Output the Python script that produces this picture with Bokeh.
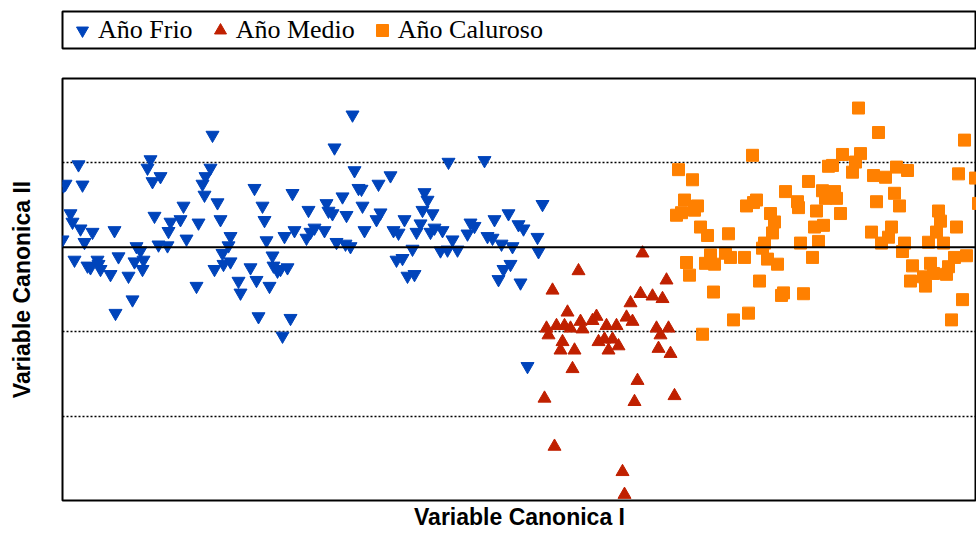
from bokeh.plotting import figure
from bokeh.layouts import column
from bokeh.models import Range1d, FixedTicker, Span, Legend, LegendItem
from bokeh.embed import file_html
from bokeh.resources import INLINE

# ---- data (canonical variable scores) ----
frio_x = [-3.11, -4.45, -3.73, -3.76, -3.71, -3.63, -4.58, -4.60, -4.41, -3.13,
          -3.18, -3.21, -3.19, -3.06, -3.03, -3.40, -3.43, -3.25, -3.69, -3.53,
          -3.55, -3.37, -4.53, -4.51, -4.43, -4.31, -4.39, -4.61, -4.09, -3.87,
          -3.83, -3.65, -3.56, -4.49, -4.36, -4.33, -4.26, -4.25, -4.23, -4.13,
          -4.05, -3.89, -3.80, -3.81, -3.95, -3.91, -4.08, -3.27, -3.09, -3.01,
          -3.00, -2.93, -2.93, -2.95,
          -1.71, -1.89, -1.69, -1.65, -1.62, -1.45, -1.33, -2.69, -2.31, -2.61,
          -2.59, -2.15, -1.97, -1.95, -1.91, -1.81, -1.77, -1.61, -1.43, -1.47,
          -1.59, -1.30, -2.57, -2.39, -2.29, -2.17, -2.13, -2.09, -1.99, -1.87,
          -1.78, -1.73, -2.51, -2.50, -2.46, -2.43, -2.36, -2.73, -2.67, -2.85,
          -2.83, -2.54, -2.65, -2.33, -2.41, -1.27,
          -0.75, -0.39, 0.19, -0.99, -0.96, -1.01, -0.91, -1.19, -1.03, -1.07,
          -1.25, -0.93, -0.89, -0.81, -0.56, -0.53, -0.49, -0.71, -0.83, -0.76,
          -0.66, -1.11, -0.29, -0.15, -0.05, 0.00, -0.36, -0.31, -0.22, -0.11,
          0.14, 0.15, -1.21, -1.16, -1.09, -0.13, -0.20, -0.25, -0.03, 0.04]
frio_y = [1.33, 0.98, 1.04, 0.94, 0.78, 0.84, 0.75, 0.73, 0.74, 0.94,
          0.84, 0.75, 0.62, 0.53, 0.33, 0.49, 0.33, 0.29, 0.37, 0.30,
          0.19, 0.10, 0.40, 0.30, 0.22, 0.18, 0.06, 0.09, 0.20, 0.01,
          -0.04, 0.03, 0.02, -0.15, -0.22, -0.24, -0.15, -0.20, -0.26, -0.32,
          -0.11, -0.17, -0.15, -0.26, -0.34, -0.62, -0.78, -0.46, -0.26, -0.07,
          -0.20, -0.17, 0.13, 0.02,
          1.57, 1.18, 0.91, 0.70, 0.69, 0.75, 0.85, 0.70, 0.64, 0.49,
          0.32, 0.44, 0.52, 0.43, 0.40, 0.60, 0.38, 0.49, 0.41, 0.33,
          0.20, 0.20, 0.08, 0.13, 0.20, 0.11, 0.18, 0.23, 0.20, 0.06,
          0.04, 0.01, -0.10, -0.22, -0.28, -0.26, -0.24, -0.24, -0.39, -0.40,
          -0.54, -0.46, -0.82, -0.84, -1.05, -0.15,
          1.01, 1.03, 0.51, 0.65, 0.56, 0.44, 0.40, 0.33, 0.28, 0.18,
          0.17, 0.18, 0.23, 0.20, 0.16, 0.29, 0.25, 0.09, -0.04, -0.03,
          -0.03, -0.02, 0.33, 0.40, 0.27, 0.22, 0.13, 0.11, 0.04, 0.01,
          0.12, -0.05, -0.13, -0.34, -0.32, -0.20, -0.26, -0.38, -0.42, -1.41]

medio_x = [1.19, 0.55, 0.29, 1.43, 1.17, 1.29, 1.39, 1.07, 0.44, 0.73,
           0.69, 1.03, 1.09, 0.57, 0.23, 0.33, 0.41, 0.47, 0.59, 0.83,
           0.93, 0.25, 1.33, 1.45, 1.37, 0.39, 0.37, 0.51, 0.75, 0.81,
           0.89, 0.85, 0.95, 1.35, 1.47, 0.49, 1.14, 0.21, 1.11, 1.51,
           0.31, 0.99, 1.01]
medio_y = [-0.07, -0.28, -0.51, -0.39, -0.55, -0.58, -0.61, -0.66, -0.77, -0.82,
           -0.87, -0.83, -0.88, -0.88, -0.96, -0.93, -0.93, -0.96, -0.97, -0.93,
           -0.93, -1.04, -0.96, -0.96, -1.04, -1.12, -1.22, -1.22, -1.12, -1.09,
           -1.09, -1.22, -1.17, -1.20, -1.26, -1.44, -1.58, -1.79, -1.83, -1.76,
           -2.36, -2.66, -2.93]

caluroso_x = [2.29, 1.55, 1.69, 1.61, 1.74, 1.71, 1.58, 1.53, 1.77, 1.84,
              2.05, 2.33, 2.30, 2.23, 2.62, 2.74, 2.75, 2.85, 2.99, 3.02,
              2.93, 2.91, 3.00, 2.47, 2.51, 2.49, 2.41, 2.39, 2.77, 2.95,
              1.87, 2.02, 2.07, 2.21, 1.82, 1.91, 1.63, 1.66, 2.44, 2.54,
              2.36, 1.90, 2.58, 2.60, 2.80, 2.89, 2.25, 2.10, 1.79, 3.05,
              3.35, 3.55, 4.41, 3.19, 3.37, 3.32, 3.09, 3.29, 3.50, 3.62,
              3.73, 3.84, 4.35, 4.52, 3.11, 3.13, 3.71, 3.76, 3.53, 3.17,
              3.48, 3.68, 3.65, 3.58, 3.81, 3.79, 4.15, 4.17, 4.13, 4.05,
              4.20, 4.33, 4.55, 4.31, 4.43, 4.25, 4.23, 3.89, 4.07, 4.10,
              4.00, 3.87, 4.02, 4.39, 4.28]
caluroso_y = [1.09, 0.92, 0.80, 0.56, 0.49, 0.44, 0.41, 0.38, 0.24, 0.14,
              0.16, 0.56, 0.53, 0.49, 0.66, 0.54, 0.47, 0.78, 0.67, 0.58,
              0.43, 0.24, 0.26, 0.40, 0.30, 0.17, 0.05, -0.01, 0.05, 0.07,
              -0.09, -0.07, -0.12, -0.12, -0.19, -0.20, -0.18, -0.33, -0.14, -0.20,
              -0.40, -0.53, -0.57, -0.54, -0.55, -0.12, -0.78, -0.86, -1.03, 0.96,
              1.65, 1.36, 1.27, 1.10, 1.11, 1.01, 0.97, 0.89, 0.85, 0.83,
              0.95, 0.91, 0.87, 0.82, 0.66, 0.58, 0.64, 0.49, 0.54, 0.40,
              0.18, 0.24, 0.12, 0.05, 0.05, -0.05, 0.43, 0.31, 0.18, 0.06,
              0.05, 0.24, 0.52, -0.12, -0.10, -0.23, -0.32, -0.22, -0.19, -0.31,
              -0.35, -0.40, -0.46, -0.62, -0.86]

labels = ["Año Frio", "Año Medio", "Año Caluroso"]
grid_levels = [-2, -1, 1]

BLUE = "#0044BB"
RED = "#C02000"
ORANGE = "#FF8000"
AXIS_FONT = "Liberation Sans"
LEGEND_FONT = "Liberation Serif"
W = 976

# ---- legend strip (full-width framed box) ----
pt = figure(width=W, height=52, x_range=Range1d(0, 1), y_range=Range1d(0, 1),
            output_backend="svg", toolbar_location=None,
            x_axis_location=None, y_axis_location=None,
            min_border_left=62, min_border_right=0, min_border_top=11, min_border_bottom=4)
pt.grid.visible = False
pt.outline_line_color = "black"
pt.outline_line_width = 2
lb = pt.scatter(frio_x, frio_y, marker="inverted_triangle", size=13, color=BLUE, visible=False)
lr = pt.scatter(medio_x, medio_y, marker="triangle", size=13, color=RED, visible=False)
lo = pt.scatter(caluroso_x, caluroso_y, marker="square", size=12, color=ORANGE, visible=False)
legend = Legend(items=[LegendItem(label=labels[0], renderers=[lb]),
                       LegendItem(label=labels[1], renderers=[lr]),
                       LegendItem(label=labels[2], renderers=[lo])],
                location="center_left", orientation="horizontal",
                border_line_color=None, background_fill_alpha=0,
                label_text_font=LEGEND_FONT, label_text_font_size="26px",
                label_text_color="black",
                glyph_width=30, glyph_height=30, label_standoff=1,
                spacing=12, padding=10, margin=5)
pt.add_layout(legend)

# ---- main scatter ----
p = figure(width=W, height=481, x_range=Range1d(-4.61, 4.53), y_range=Range1d(-3, 2),
           output_backend="svg", toolbar_location=None,
           min_border_left=62, min_border_right=0, min_border_top=26, min_border_bottom=33)
p.outline_line_color = "black"
p.outline_line_width = 2
for ax in (p.xaxis[0], p.yaxis[0]):
    ax.ticker = FixedTicker(ticks=[])
    ax.axis_line_color = None
    ax.major_tick_line_color = None
    ax.minor_tick_line_color = None
    ax.axis_label_text_font = AXIS_FONT
    ax.axis_label_text_font_size = "23px"
    ax.axis_label_text_font_style = "bold"
    ax.axis_label_text_color = "black"
p.xaxis.axis_label = "Variable Canonica I"
p.yaxis.axis_label = "Variable Canonica II"
p.xaxis.axis_label_standoff = 3
p.yaxis.axis_label_standoff = 28

p.xgrid.visible = False
p.ygrid[0].ticker = FixedTicker(ticks=grid_levels)
p.ygrid.grid_line_color = "black"
p.ygrid.grid_line_dash = "2 2"
p.ygrid.grid_line_width = 1.5
p.add_layout(Span(location=0, dimension="width", line_color="black", line_width=2))

p.scatter(frio_x, frio_y, marker="inverted_triangle", size=13, color=BLUE)
p.scatter(medio_x, medio_y, marker="triangle", size=13, color=RED)
p.scatter(caluroso_x, caluroso_y, marker="square", size=12, color=ORANGE)

layout = column(pt, p)
open("out.html", "w").write(file_html(layout, INLINE))
